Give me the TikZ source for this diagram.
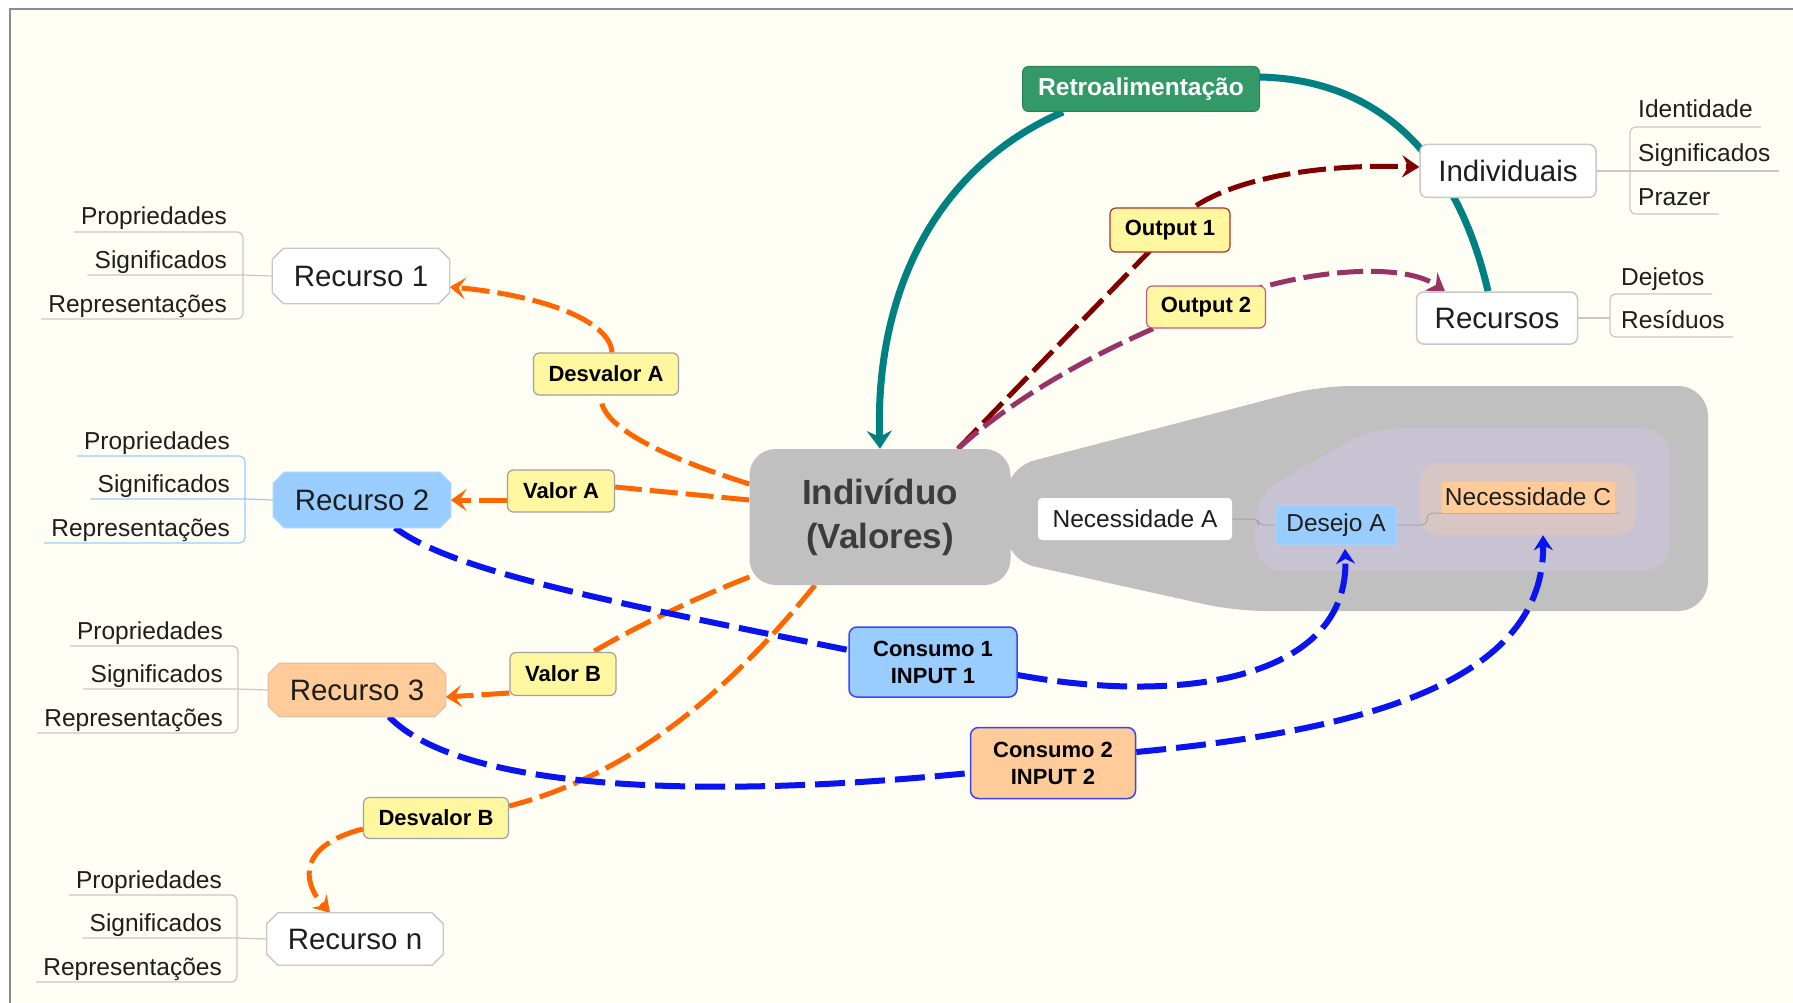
\documentclass[tikz,border=0pt]{standalone}
\usepackage{fontspec}
\setmainfont{Liberation Sans}
\usetikzlibrary{arrows.meta}
\pgfdeclarelayer{bg}\pgfdeclarelayer{edges}\pgfdeclarelayer{nodebg}
\pgfsetlayers{bg,edges,nodebg,main}
\definecolor{cream}{HTML}{FFFEF5}
\definecolor{framec}{HTML}{8C8C8C}
\definecolor{orangeL}{HTML}{FF6600}
\definecolor{blueL}{HTML}{0A14F0}
\definecolor{redL}{HTML}{800000}
\definecolor{purpL}{HTML}{993366}
\definecolor{tealL}{HTML}{008080}
\definecolor{yel}{HTML}{FFF6A0}
\definecolor{lblue}{HTML}{99CCFF}
\definecolor{lblueB}{HTML}{A9D3FF}
\definecolor{peach}{HTML}{FFCC99}
\definecolor{peachB}{HTML}{E8C09E}
\definecolor{greenB}{HTML}{339966}
\definecolor{grayB}{HTML}{C0C0C0}
\definecolor{lav}{HTML}{C7C3D2}
\definecolor{rose}{HTML}{D8C6C4}
\definecolor{txt}{HTML}{1E1E1E}
\definecolor{lineg}{HTML}{C8C8C8}
\definecolor{tagB}{HTML}{A0A0A0}
\definecolor{inlg}{HTML}{A6A3AF}
\newcommand\octbox[3]{%
\begin{pgfonlayer}{nodebg}
\filldraw[fill=#2, draw=#3, line width=1.3pt]
 ([xshift=11pt]#1.north west) -- ([xshift=-11pt]#1.north east) -- ([yshift=-11pt]#1.north east) -- ([yshift=11pt]#1.south east) -- ([xshift=-11pt]#1.south east) -- ([xshift=11pt]#1.south west) -- ([yshift=11pt]#1.south west) -- ([yshift=-11pt]#1.north west) -- cycle;
\end{pgfonlayer}}
\newcommand\lefttree[5]{%
 \node[lbl, anchor=base east] (#1p) at (#4,#2-51) {Propriedades};
 \node[lbl, anchor=base east] (#1s) at (#4,#2-8) {Significados};
 \node[lbl, anchor=base east] (#1q) at (#4,#2+36) {Representações};
 \draw[#5, line width=1.2pt, rounded corners=6pt] ([shift={(-7,7)}]#1p.base west) -- (#3,#2-44) -- (#3,#2+43) -- ([shift={(-7,7)}]#1q.base west);
 \draw[#5, line width=1.2pt] ([shift={(-7,7)}]#1s.base west) -- (#3,#2-1) -- (#1.west);
}
\tikzset{
 lbl/.style={inner sep=0pt, text=txt, font=\fontsize{24.5}{29}\selectfont},
 big/.style={inner sep=0pt, text=txt, font=\fontsize{29.5}{35}\selectfont},
 tag/.style={rounded corners=6pt, fill=yel, draw=tagB, line width=1.2pt, inner sep=0pt, text=black, font=\bfseries\fontsize{22}{27}\selectfont},
 whitebox/.style={big, rounded corners=7pt, fill=white, draw=lineg, line width=1.5pt},
 cons/.style={rounded corners=8pt, draw=blue!75!white, line width=1.5pt, inner sep=0pt, align=center, text=black, font=\bfseries\fontsize{22}{27}\selectfont},
 ordash/.style={orangeL, line width=5pt, dash pattern=on 28pt off 8pt},
 bldash/.style={blueL, line width=6pt, dash pattern=on 30pt off 10pt},
 ortip/.style={-{Stealth[length=16pt,width=22pt,inset=7pt]}},
 bltip/.style={-{Stealth[length=15pt,width=19pt,inset=5pt]}},
}
\begin{document}
\begin{tikzpicture}[x=1pt,y=-1pt]
\useasboundingbox (0,0) rectangle (1793,1003);
\begin{pgfonlayer}{bg}
\fill[white] (0,0) rectangle (1793,1003);
\fill[cream] (10,9) rectangle (1793,1003);
\draw[framec, line width=2pt] (10,1003) -- (10,9) -- (1793,9);
\fill[grayB, rounded corners=30pt] (1005,468) -- (1320,386) -- (1708,386) -- (1708,611) -- (1235,611) -- (1005,560) -- cycle;
\fill[lav, rounded corners=28pt] (1255,495) -- (1372,428) -- (1670,428) -- (1670,571) -- (1255,571) -- cycle;
\node[fill=rose, rounded corners=18pt, minimum width=216pt, minimum height=72pt, inner sep=0pt] (grpC) at (1528,499) {};
\end{pgfonlayer}

% main nodes
\node[big, minimum width=177pt, minimum height=55pt] (r1) at (361,276) {Recurso 1};
\octbox{r1}{white}{lineg}
\node[big, minimum width=177pt, minimum height=55pt] (r2) at (362,500) {Recurso 2};
\octbox{r2}{lblue}{lblueB}
\node[big, minimum width=177pt, minimum height=53pt] (r3) at (357,690) {Recurso 3};
\octbox{r3}{peach}{peachB}
\node[big, minimum width=176pt, minimum height=52pt] (rn) at (355,939) {Recurso n};
\octbox{rn}{white}{lineg}

\lefttree{r1}{276}{243}{227}{lineg}
\lefttree{r2}{500}{245}{230}{lblue}
\lefttree{r3}{690}{238}{223}{lineg}
\lefttree{rn}{939}{237}{222}{lineg}

\node[rounded corners=26pt, fill=grayB, minimum width=261pt, minimum height=136pt, inner sep=0pt, align=center, text={rgb,255:red,60;green,60;blue,60}, font=\bfseries\fontsize{35}{44}\selectfont] (ind) at (880,517) {Indivíduo\\(Valores)};

\node[rounded corners=6pt, fill=greenB, draw=greenB!85!black, line width=1pt, minimum width=237pt, minimum height=45pt, inner sep=0pt, text=white, font=\bfseries\fontsize{24.5}{29}\selectfont] (retro) at (1141,89) {Retroalimentação};

\node[whitebox, minimum width=176pt, minimum height=53pt] (indiv) at (1508,171) {Individuais};
\node[whitebox, minimum width=161pt, minimum height=52pt] (recs) at (1497,318) {Recursos};

\node[lbl, anchor=base west] (idt) at (1638,118) {Identidade};
\node[lbl, anchor=base west] (sig) at (1638,162) {Significados};
\node[lbl, anchor=base west] (prz) at (1638,205) {Prazer};
\draw[lineg, line width=1.2pt, rounded corners=6pt] ([shift={(8,9)}]idt.base east) -- (1630,127) -- (1630,214) -- ([shift={(8,9)}]prz.base east);
\draw[lineg, line width=1.2pt] (indiv.east) -- (1630,171) -- ([shift={(8,9)}]sig.base east);
\node[lbl, anchor=base west] (dej) at (1621,285) {Dejetos};
\node[lbl, anchor=base west] (res) at (1621,328) {Resíduos};
\draw[lineg, line width=1.2pt, rounded corners=6pt] ([shift={(8,9)}]dej.base east) -- (1610,294) -- (1610,337) -- ([shift={(8,9)}]res.base east);
\draw[lineg, line width=1.2pt] (recs.east) -- (1610,318);

\node[tag, draw={rgb,255:red,170;green,50;blue,40}, minimum width=120pt, minimum height=44pt] (out1) at (1170,230) {Output 1};
\node[tag, draw={rgb,255:red,195;green,90;blue,130}, minimum width=119pt, minimum height=42pt] (out2) at (1206,307) {Output 2};
\node[tag, minimum width=145pt, minimum height=42pt] (dA) at (606,374) {Desvalor A};
\node[tag, minimum width=107pt, minimum height=42pt] (vA) at (561,491) {Valor A};
\node[tag, minimum width=106pt, minimum height=43pt] (vB) at (563,674) {Valor B};
\node[tag, minimum width=145pt, minimum height=41pt] (dB) at (436,818) {Desvalor B};
\node[cons, fill=lblue, minimum width=168pt, minimum height=70pt] (c1) at (933,662) {Consumo 1\\INPUT 1};
\node[cons, fill=peach, minimum width=165pt, minimum height=71pt] (c2) at (1053,763) {Consumo 2\\INPUT 2};

\node[lbl, fill=white, rounded corners=4pt, minimum width=194pt, minimum height=42pt] (nA) at (1135,519) {Necessidade A};
\node[lbl, fill=lblue, draw=lblueB, line width=0.8pt, rounded corners=4pt, minimum width=121pt, minimum height=39pt] (dsA) at (1336,525) {Desejo A};
\node[lbl, fill=peach, minimum width=173pt, minimum height=31pt] (nC) at (1528,497) {Necessidade C};

\begin{pgfonlayer}{edges}
% small links inside the group
\draw[inlg, line width=1pt, rounded corners=5pt] (nA.east) -- (1258,519) -- (1258,525) -- (dsA.west);
\draw[inlg, line width=1pt, rounded corners=5pt] (dsA.east) -- (1427,525) -- (1427,513) -- (1620,513);
% teal feedback
\draw[tealL, line width=7pt] ([xshift=-9pt]recs.north) .. controls (1460,170) and (1390,80) .. ([yshift=12pt]retro.east);
\draw[tealL, line width=7pt, -{Stealth[length=18pt,width=25pt,inset=6pt]}] ([xshift=-78pt]retro.south) .. controls (930,170) and (875,300) .. (ind.north);
% outputs
\draw[redL, line width=5pt, dash pattern=on 28pt off 8pt] ([xshift=78pt]ind.north) -- (out1.center);
\draw[redL, line width=5pt, dash pattern=on 28pt off 8pt, -{Stealth[length=17pt,width=22pt,inset=6pt]}] (out1.center) .. controls (1200,185) and (1300,163) .. ([yshift=4pt]indiv.west);
\draw[purpL, line width=5pt, dash pattern=on 26pt off 8pt] ([xshift=78pt]ind.north) .. controls (1000,410) and (1080,355) .. (out2.center);
\draw[purpL, line width=5pt, dash pattern=on 26pt off 8pt, -{Stealth[length=17pt,width=22pt,inset=6pt]}] (out2.center) .. controls (1290,270) and (1400,260) .. ([xshift=-52pt]recs.north);
% orange values
\draw[ordash] ([yshift=33pt]ind.west) .. controls (680,462) and (598,430) .. ([xshift=-5pt]dA.south);
\draw[ordash, ortip] ([xshift=6pt]dA.north) .. controls (610,320) and (540,295) .. ([yshift=-11pt]r1.east);
\draw[ordash] ([yshift=17pt]ind.west) -- ([yshift=4pt]vA.east);
\draw[ordash, ortip] ([yshift=-9pt]vA.west) -- (r2.east);
\draw[ordash] ([yshift=-60pt]ind.west) .. controls (690,600) and (630,630) .. ([xshift=30pt]vB.north);
\draw[ordash, ortip] ([yshift=-19pt]vB.west) -- ([yshift=-7pt]r3.east);
\draw[ordash] ([xshift=-65pt]ind.south) .. controls (750,665) and (650,770) .. ([yshift=12pt]dB.east);
\draw[ordash, -{Stealth[length=16pt,width=20pt,inset=6pt]}] ([yshift=-11pt]dB.west) .. controls (300,845) and (300,880) .. ([xshift=-25pt]rn.north);
% blue consumption
\draw[bldash] ([xshift=33pt]r2.south) .. controls (450,570) and (600,600) .. ([yshift=12pt]c1.west);
\draw[bldash, bltip] ([yshift=-13pt]c1.east) .. controls (1180,705) and (1350,680) .. ([xshift=9pt,yshift=-4pt]dsA.south);
\draw[bldash] ([xshift=32pt]r3.south) .. controls (460,790) and (700,800) .. ([yshift=-10pt]c2.west);
\draw[bldash, bltip] ([yshift=11pt]c2.east) .. controls (1370,730) and (1545,680) .. ([xshift=15pt]grpC.south);
\end{pgfonlayer}
\end{tikzpicture}
\end{document}
